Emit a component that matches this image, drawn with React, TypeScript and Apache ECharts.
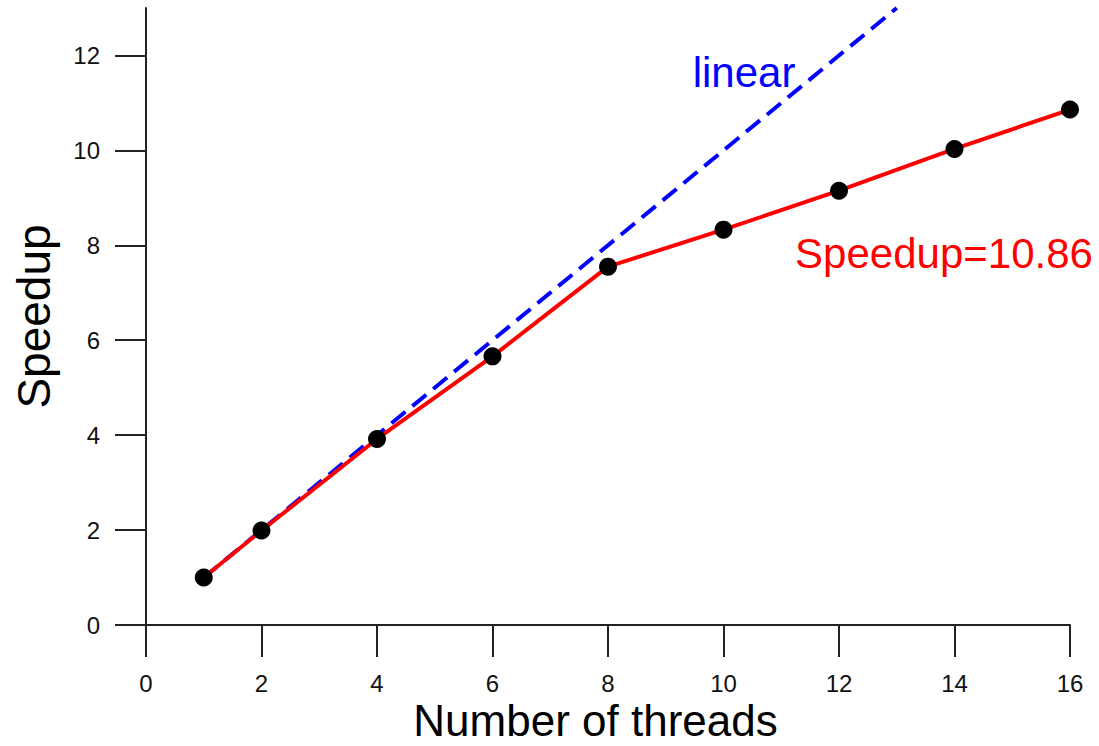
import React, { useEffect, useRef } from "react";
import * as echarts from "echarts";

const threads = [1, 2, 4, 6, 8, 10, 12, 14, 16];
const speedup = [1.0, 1.99, 3.92, 5.66, 7.55, 8.33, 9.15, 10.03, 10.86];
const linearX = [1, 13];
const linearY = [1, 13];
const xTicks = [0, 2, 4, 6, 8, 10, 12, 14, 16];
const yTicks = [0, 2, 4, 6, 8, 10, 12];

export default function App() {
  const ref = useRef<HTMLDivElement>(null);
  useEffect(() => {
    if (!ref.current) return;
    const chart = echarts.init(ref.current, null, { renderer: "svg" });
    const font = "Liberation Sans, Arial, sans-serif";
    const axisColor = "#222";
    chart.setOption({
      animation: false,
      backgroundColor: "#fff",
      grid: { left: 146, right: 29, top: 8, bottom: 121, containLabel: false, outerBoundsMode: "none" },
      xAxis: {
        type: "value",
        min: 0,
        max: 16,
        interval: 2,
        name: "Number of threads",
        nameLocation: "middle",
        nameGap: 73,
        nameMoveOverlap: false,
        nameTextStyle: { fontSize: 44, lineHeight: 44, color: "#000", fontFamily: font, padding: [0, 25, 0, 0] },
        axisLine: { show: true, onZero: false, lineStyle: { color: axisColor, width: 2 } },
        axisTick: { show: true, length: 32, lineStyle: { color: axisColor, width: 2 }, customValues: xTicks },
        axisLabel: { margin: 46, fontSize: 24, color: "#111", fontFamily: font, customValues: xTicks },
        splitLine: { show: false },
      },
      yAxis: {
        type: "value",
        min: 0,
        max: 13,
        interval: 2,
        name: "Speedup",
        nameLocation: "middle",
        nameRotate: 90,
        nameGap: 89,
        nameMoveOverlap: false,
        nameTextStyle: { fontSize: 46, color: "#000", fontFamily: font },
        axisLine: { show: true, onZero: false, lineStyle: { color: axisColor, width: 2 } },
        axisTick: { show: true, length: 31, lineStyle: { color: axisColor, width: 2 }, customValues: yTicks },
        axisLabel: { margin: 46, fontSize: 24, color: "#111", fontFamily: font, customValues: yTicks },
        splitLine: { show: false },
      },
      graphic: [
        {
          type: "text",
          x: 744,
          y: 72,
          style: {
            text: "linear",
            fill: "#0000ff",
            font: `42px ${font}`,
            align: "center",
            verticalAlign: "middle",
          },
        },
        {
          type: "text",
          x: 944,
          y: 253,
          style: {
            text: "Speedup=10.86",
            fill: "#ff0000",
            font: `42px ${font}`,
            align: "center",
            verticalAlign: "middle",
          },
        },
      ],
      series: [
        {
          name: "linear",
          type: "line",
          data: linearX.map((x, i) => [x, linearY[i]]),
          showSymbol: false,
          symbol: "none",
          lineStyle: { color: "#0000ff", width: 4, type: [18, 9] },
          z: 2,
        },
        {
          name: "Speedup",
          type: "line",
          data: threads.map((x, i) => [x, speedup[i]]),
          symbol: "circle",
          symbolSize: 18,
          itemStyle: { color: "#000" },
          lineStyle: { color: "#ff0000", width: 4 },
          z: 3,
        },
      ],
    });
    return () => chart.dispose();
  }, []);
  return <div ref={ref} style={{ width: 1099, height: 746, position: "absolute", left: 0, top: 0 }} />;
}
